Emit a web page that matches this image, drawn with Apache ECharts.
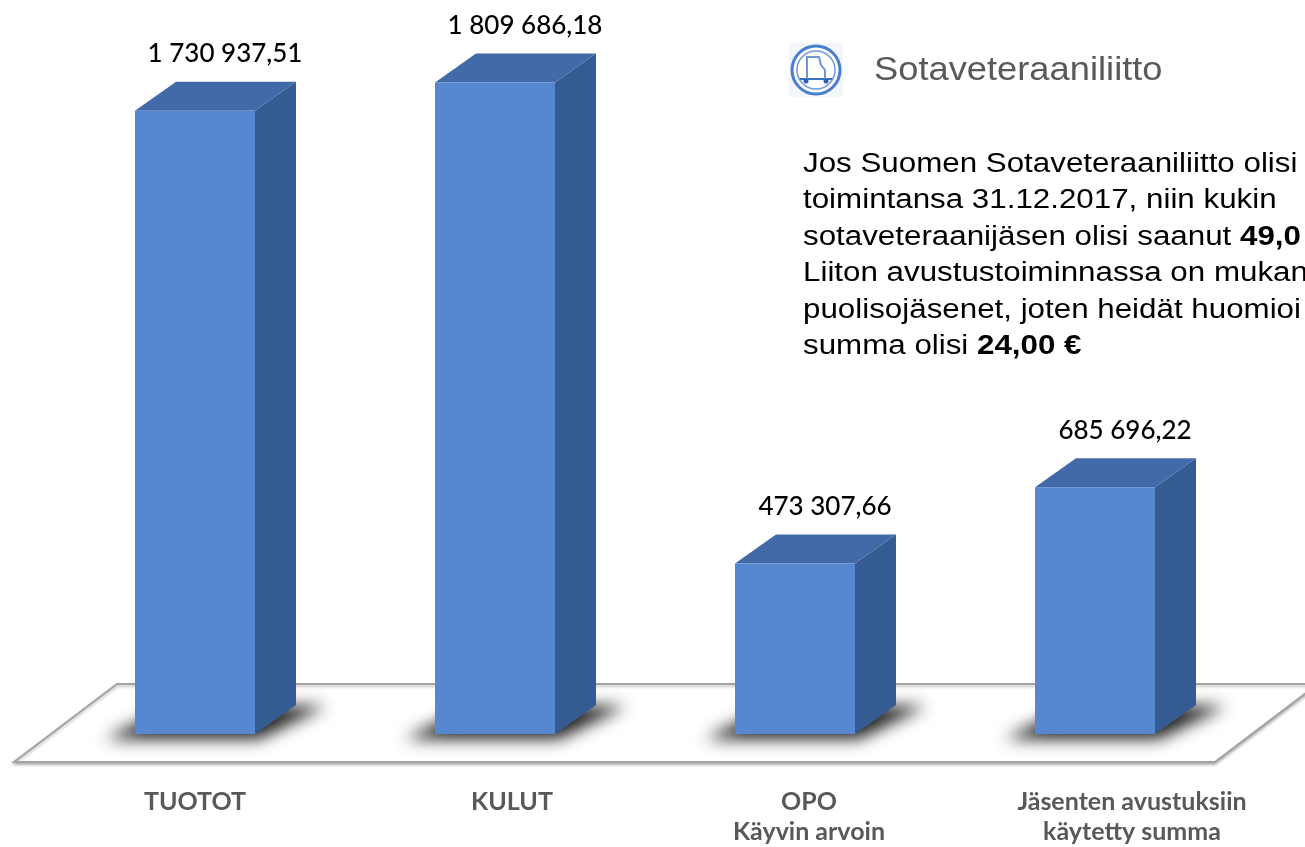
<!DOCTYPE html>
<html>
<head>
<meta charset="utf-8">
<script src="https://cdn.jsdelivr.net/npm/echarts@6/dist/echarts.min.js"></script>
<style>
html, body { margin: 0; padding: 0; background: #fff; }
#chart { width: 1305px; height: 847px; }
</style>
</head>
<body>
<div id="chart"></div>
<script>
// data
var categories = ['TUOTOT', 'KULUT', 'OPO\nKäyvin arvoin', 'Jäsenten avustuksiin\nkäytetty summa'];
var values = [1730937.51, 1809686.18, 473307.66, 685696.22];
var infoLines = [
    'Jos Suomen Sotaveteraaniliitto olisi',
    'toimintansa 31.12.2017, niin kukin',
    'sotaveteraanijäsen olisi saanut {b|49,0}',
    'Liiton avustustoiminnassa on mukan',
    'puolisojäsenet, joten heidät huomioi',
    'summa olisi {b|24,00 €}'
];

// small per-label horizontal nudge of the category names (layout only)
var labelShift = [0, 17, 14, 37];

function fmt(v) {
    var parts = v.toFixed(2).split('.');
    var s = parts[0].replace(/\B(?=(\d{3})+(?!\d))/g, ' ');
    return s + ',' + parts[1];
}

var FRONT = '#5688d1', SIDE = '#345c93', TOP = '#4269a8';
var FAR = 3000; // shadow caster is drawn off canvas, only its shadow lands on the floor

function renderBar(params, api) {
    var base = api.coord([api.value(0), 0]);
    var top = api.coord([api.value(0), api.value(1)]);
    var w = api.size([1, 0])[0] * 0.4;
    var dx = 41, dy = -29;
    var x0 = base[0] - w / 2, x1 = base[0] + w / 2;
    var yb = base[1], yt = top[1];
    var shade = [
        [x0 - 30, yb + 5 - FAR], [x1 + 4, yb + 5 - FAR],
        [x1 + dx + 30, yb + dy + 1 - FAR], [x0 + dx - 4, yb + dy + 1 - FAR]
    ];
    return {
        type: 'group',
        children: [
            {
                type: 'polygon',
                shape: { points: shade },
                style: {
                    fill: '#000', shadowBlur: 16, shadowColor: 'rgba(20,20,20,0.95)',
                    shadowOffsetX: 0, shadowOffsetY: FAR
                }
            },
            {
                type: 'polygon',
                shape: { points: [[x1, yb], [x1 + dx, yb + dy], [x1 + dx, yt + dy], [x1, yt]] },
                style: { fill: SIDE }
            },
            {
                type: 'polygon',
                shape: { points: [[x0, yt], [x1, yt], [x1 + dx, yt + dy], [x0 + dx, yt + dy]] },
                style: { fill: TOP }
            },
            {
                type: 'rect',
                shape: { x: x0, y: yt, width: w, height: yb - yt },
                style: { fill: FRONT }
            },
            {
                type: 'text',
                style: {
                    text: fmt(api.value(1)),
                    x: base[0] + 30,
                    y: yt + dy - 28,
                    align: 'center',
                    verticalAlign: 'middle',
                    font: '500 26px Lato',
                    fill: '#000'
                }
            }
        ]
    };
}

var chart = echarts.init(document.getElementById('chart'));

var option = {
    backgroundColor: '#fff',
    animation: false,
    grid: { left: 45, right: 60, top: 14, bottom: 109 },
    xAxis: {
        type: 'category',
        data: categories.map(function (c, i) {
            var s = labelShift[i];
            return { value: c, textStyle: { padding: s > 0 ? [0, 0, 0, 2 * s] : [0, 2 * -s, 0, 0] } };
        }),
        axisLine: { show: false },
        axisTick: { show: false },
        axisLabel: {
            margin: 53,
            color: '#595959',
            fontFamily: 'Lato',
            fontWeight: 'bold',
            fontSize: 25,
            lineHeight: 30,
            interval: 0
        }
    },
    yAxis: {
        type: 'value',
        min: 0,
        max: 2000000,
        show: false,
        splitLine: { show: false }
    },
    graphic: [
        {
            type: 'polygon',
            z: 0,
            shape: { points: [[14, 762], [1215, 762], [1318, 684], [117, 684]] },
            style: {
                fill: '#fff', stroke: '#a3a3a3', lineWidth: 2,
                shadowBlur: 3, shadowColor: 'rgba(0,0,0,0.25)', shadowOffsetY: 2
            }
        },
        {
            type: 'group',
            x: 816, y: 70,
            children: [
                { type: 'rect', shape: { x: -27, y: -27, width: 54, height: 54 }, style: { fill: '#f3f6fb' } },
                { type: 'circle', shape: { cx: 0, cy: 0, r: 24 }, style: { fill: '#fff', stroke: '#4a7fd0', lineWidth: 3 } },
                { type: 'circle', shape: { cx: 0, cy: 0, r: 19 }, style: { fill: 'none', stroke: '#6d97da', lineWidth: 1.5 } },
                { type: 'line', shape: { x1: -16, y1: 9, x2: 16, y2: 9 }, style: { stroke: '#3d6fc2', lineWidth: 2 } },
                { type: 'polyline', shape: { points: [[-9, 9], [-9, -13], [3, -13], [5, -5], [9, 0], [9, 9]] }, style: { stroke: '#6d97da', lineWidth: 2, fill: 'none' } },
                { type: 'circle', shape: { cx: -10, cy: 11, r: 2.5 }, style: { fill: '#2f5fb5' } },
                { type: 'circle', shape: { cx: 10, cy: 11, r: 2.5 }, style: { fill: '#2f5fb5' } }
            ]
        },
        {
            type: 'text',
            x: 874, y: 71,
            scaleX: 1.1,
            style: {
                text: 'Sotaveteraaniliitto',
                font: '33px "Liberation Sans"',
                fill: '#595959',
                verticalAlign: 'middle'
            }
        },
        {
            type: 'text',
            x: 803, y: 146,
            scaleX: 1.16,
            style: {
                text: infoLines.join('\n'),
                font: '27px "Liberation Sans"',
                lineHeight: 36.5,
                fill: '#000',
                rich: {
                    b: { fontFamily: 'Liberation Sans', fontSize: 27, fontWeight: 'bold', lineHeight: 36.5, fill: '#000' }
                }
            }
        }
    ],
    series: [
        {
            type: 'custom',
            z: 2,
            renderItem: renderBar,
            data: values.map(function (v, i) { return [i, v]; })
        }
    ]
};

chart.setOption(option);
</script>
</body>
</html>
